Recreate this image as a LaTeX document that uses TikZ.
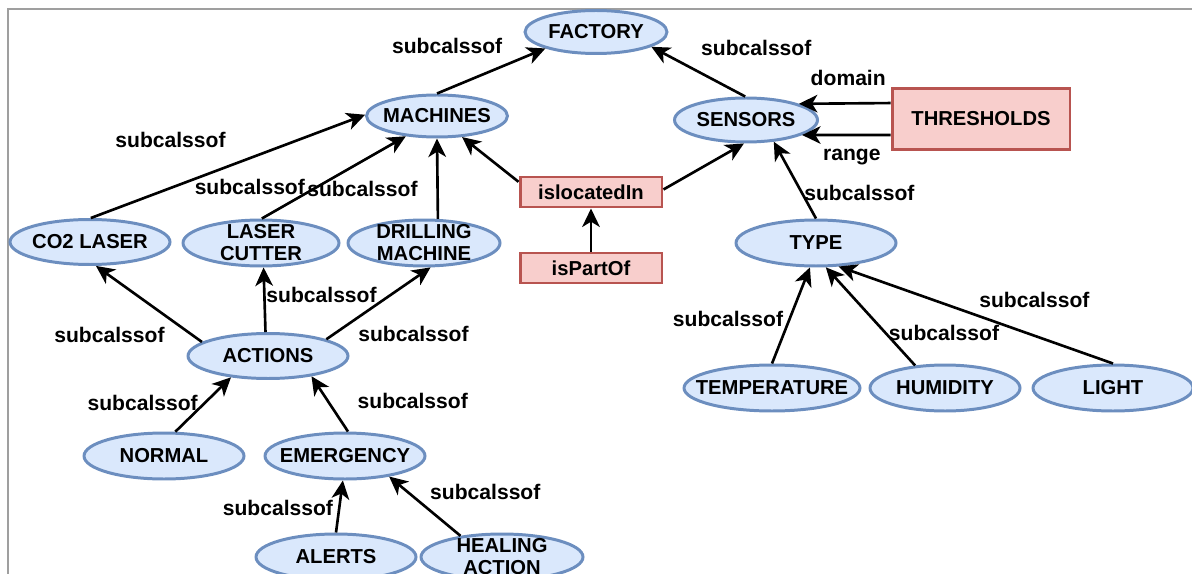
\documentclass[tikz,border=0pt]{standalone}
\usepackage{fontspec}
\setmainfont{Liberation Sans}
\usetikzlibrary{arrows.meta,shapes.geometric}

\definecolor{cborder}{HTML}{6C8EBF}
\definecolor{cfill}{HTML}{DAE8FC}
\definecolor{rborder}{HTML}{B85450}
\definecolor{rfill}{HTML}{F8CECC}
\def\pxunit{0.02cm}

\begin{document}
\begin{tikzpicture}[x=\pxunit, y=-\pxunit, line width=1.5pt, ->, >={Stealth[length=10.5pt,width=10pt,inset=3pt]}, font=\bfseries\fontsize{11.5}{12.5}\selectfont]
    \tikzstyle{concept} = [ellipse, draw=cborder, fill=cfill, line width=1.7pt, minimum width=3.2cm, minimum height=0.92cm, inner xsep=-10pt, inner ysep=-3pt, align=center]
    \tikzstyle{relation} = [rectangle, draw=rborder, fill=rfill, line width=1.7pt, minimum width=2.84cm, minimum height=0.6cm, inner sep=0pt]
    \tikzstyle{annot} = [inner sep=0pt, font=\bfseries\fontsize{12}{13}\selectfont]

    \useasboundingbox (0,0) rectangle (1192,574);
    \draw[-, gray!75, line width=0.7pt] (8,574) -- (8,9) -- (1192,9);

    %%% DRAW THE NODES
    \node[concept, minimum width=2.84cm, minimum height=0.86cm] (factory) at (596,32) {FACTORY};
    \node[concept, minimum width=2.82cm, minimum height=0.84cm] (machines) at (437,116) {MACHINES};
    \node[concept, minimum width=2.86cm, minimum height=0.88cm] (sensors) at (746,120) {SENSORS};
    \node[relation, minimum width=3.56cm, minimum height=1.22cm] (thresholds) at (981,119) {THRESHOLDS};
    \node[relation] (located) at (591,192) {islocatedIn};
    \node[relation] (partof) at (591,268) {isPartOf};

    \node[concept, minimum height=0.9cm] (co2) at (90,242) {CO2 LASER};
    \node[concept, minimum width=3.12cm] (cutter) at (261,243) {LASER\\CUTTER};
    \node[concept, minimum width=3.04cm] (drill) at (424,243) {DRILLING\\MACHINE};
    \node[concept, minimum height=0.9cm] (actions) at (268,356) {ACTIONS};
    \node[concept] (normal) at (164,456) {NORMAL};
    \node[concept] (emergency) at (345,456) {EMERGENCY};
    \node[concept] (alerts) at (336,557) {ALERTS};
    \node[concept, minimum width=3.24cm] (healing) at (502,557) {HEALING\\ACTION};

    \node[concept] (type) at (816,243) {TYPE};
    \node[concept, minimum width=3.52cm] (temperature) at (772,388) {TEMPERATURE};
    \node[concept, minimum width=3cm] (humidity) at (945,388) {HUMIDITY};
    \node[concept] (light) at (1113,388) {LIGHT};

    %%% DRAW THE PATHS
    \path (machines.90) edge node[annot, shift={(-44,-25)}] {subcalssof} (factory.198);
    \path (sensors.92) edge node[annot, shift={(58,-24)}] {subcalssof} (factory.345);
    \path (co2.88) edge node[annot, shift={(-57.5,-26.5)}] {subcalssof} (machines.179);
    \path (cutter.88) edge node[annot, shift={(-84,10)}] {subcalssof} (machines.213);
    \path (drill.60) edge node[annot, shift={(-75,10)}] {subcalssof} (machines.270);
    \path (located.172) edge (machines.320);
    \path (located.2) edge (sensors.265);
    \path (partof) edge (located);
    \path (thresholds.170) edge node[annot, shift={(3.5,-25.5)}] {domain} (sensors.17);
    \path (thresholds.190) edge node[annot, shift={(5.5,22)}] {range} (sensors.345);
    \path (type.90) edge node[annot, shift={(64.5,13)}] {subcalssof} (sensors.322);

    \path (temperature.90) edge node[annot, shift={(-63,3.5)}] {subcalssof} (type.256);
    \path (humidity.143) edge node[annot, shift={(73.5,16.5)}] {subcalssof} (type.292);
    \path (light.90) edge node[annot, shift={(58.5,-15.5)}] {subcalssof} (type.314);

    \path (actions.168) edge node[annot, shift={(-39.5,31)}] {subcalssof} (co2.284);
    \path (actions.96) edge node[annot, shift={(57,-4.5)}] {subcalssof} (cutter.276);
    \path (actions.16) edge node[annot, shift={(35,31)}] {subcalssof} (drill.285);
    \path (normal.65) edge node[annot, shift={(-60.5,-2)}] {subcalssof} (actions.210);
    \path (emergency.83) edge node[annot, shift={(83,-3)}] {subcalssof} (actions.335);
    \path (alerts.90) edge node[annot, shift={(-61.5,1.5)}] {subcalssof} (emergency.265);
    \path (healing.153) edge node[annot, shift={(60.5,-14.5)}] {subcalssof} (emergency.335);

\end{tikzpicture}
\end{document}
